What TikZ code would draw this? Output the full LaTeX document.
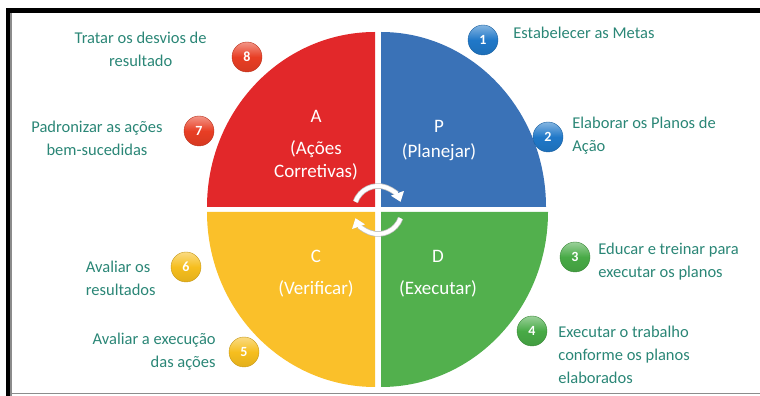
\documentclass[tikz,border=0pt]{standalone}
\usepackage{fontspec}
\setmainfont{Carlito}
\usetikzlibrary{positioning,arrows.meta}

\definecolor{qred}{RGB}{226,40,42}
\definecolor{qblue}{RGB}{58,114,183}
\definecolor{qyellow}{RGB}{250,192,42}
\definecolor{qgreen}{RGB}{82,176,77}
\definecolor{noteteal}{RGB}{42,134,118}
\definecolor{bred}{RGB}{232,62,36}
\definecolor{bblue}{RGB}{32,120,200}
\definecolor{bgreen}{RGB}{72,170,70}
\definecolor{byellow}{RGB}{246,190,30}

\begin{document}
\begin{tikzpicture}[x=1pt, y=1pt,
  badge/.style={circle, minimum size=30pt, inner sep=0pt, top color=#1!55!white, bottom color=#1!92!black, middle color=#1, draw=#1!80!black, line width=0.4pt, text=white, font=\bfseries\fontsize{14}{14}\selectfont},
  note/.style={inner sep=0pt, text=noteteal, font=\fontsize{16.5}{23}\selectfont},
  quad/.style={inner sep=0pt, text=white, align=center, font=\fontsize{19}{23}\selectfont},
  cyc/.style={draw=white, line width=4pt, -{Triangle[width=13pt, length=9pt]}, preaction={draw=black!25, line width=5.5pt}}]
\useasboundingbox (0,0) rectangle (760,396);

% frame
\fill[black] (6,383) rectangle (760,388);
\fill[black] (6,0) rectangle (10,388);
\fill[black!45] (10,0) rectangle (12,383);
\draw[black!45, line width=1.2pt] (12,2.5) -- (760,2.5);

% the four quarters
\fill[qred] (375,189) -- (207,189) arc[start angle=180, end angle=90, x radius=168, y radius=175] -- cycle;
\fill[qblue] (381,189) -- (381,364) arc[start angle=90, end angle=0, x radius=165, y radius=175] -- cycle;
\fill[qyellow] (375,184) -- (375,9) arc[start angle=270, end angle=180, x radius=168, y radius=175] -- cycle;
\fill[qgreen] (381,184) -- (548,184) arc[start angle=0, end angle=-90, x radius=167, y radius=175] -- cycle;

\node[quad] (qa) at (316,251) {A\\[9pt](Ações\\Corretivas)};
\node[quad] (qp) at (439,255) {P\\[2pt](Planejar)};
\node[quad] (qc) at (316,122) {C\\[9pt](Verificar)};
\node[quad] (qd) at (438,122) {D\\[9pt](Executar)};

% turning arrows in the middle
\draw[cyc] ([shift={(160:24)}]378,186) arc[start angle=160, end angle=20, radius=24];
\draw[cyc] ([shift={(-20:24)}]378,186) arc[start angle=-20, end angle=-160, radius=24];

% numbered steps
\node[badge=bblue] (b1) at (483,356) {1};
\node[badge=bblue] (b2) at (548,259) {2};
\node[badge=bgreen] (b3) at (575,139) {3};
\node[badge=bgreen] (b4) at (532,65) {4};
\node[badge=byellow] (b5) at (244,44) {5};
\node[badge=byellow] (b6) at (186,129) {6};
\node[badge=bred] (b7) at (199,265) {7};
\node[badge=bred] (b8) at (247,339) {8};

\node[note, align=left, right=15pt of b1, yshift=7pt] (l1) {Estabelecer as Metas};
\node[note, align=left, right=9pt of b2, yshift=1pt] (l2) {Elaborar os Planos de\\Ação};
\node[note, align=left, right=8pt of b3, yshift=-5pt] (l3) {Educar e treinar para\\executar os planos};
\node[note, align=left, right=11pt of b4, yshift=-24pt] (l4) {Executar o trabalho\\conforme os planos\\elaborados};
\node[note, align=right, left=13pt of b5] (l5) {Avaliar a execução\\das ações};
\node[note, align=left, left=15pt of b6, yshift=-11pt] (l6) {Avaliar os\\resultados};
\node[note, align=center, left=21pt of b7, yshift=-7pt] (l7) {Padronizar as ações\\bem-sucedidas};
\node[note, align=center, left=25pt of b8, yshift=8pt] (l8) {Tratar os desvios de\\resultado};
\end{tikzpicture}
\end{document}
